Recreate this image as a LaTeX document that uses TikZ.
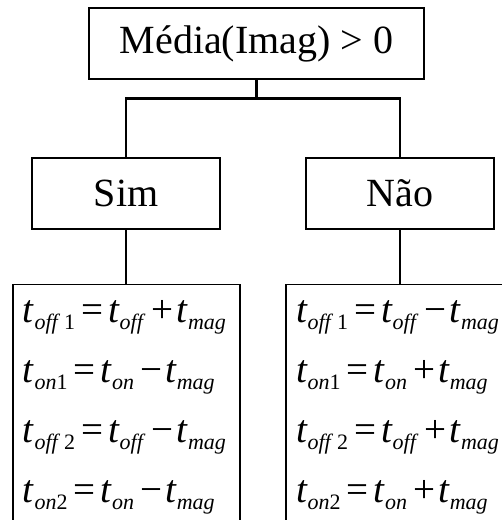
\documentclass[tikz,border=0pt]{standalone}
\usepackage{fontspec}
\setmainfont{Liberation Serif}
\usetikzlibrary{positioning}
\newcommand{\tsub}[1]{\textit{t}\raisebox{-7pt}{\fontsize{22}{22}\selectfont #1}}
\newcommand{\releq}{\hspace{6pt}=\hspace{5pt}}
\newcommand{\binop}[1]{\hspace{6pt}#1\hspace{3pt}}

\begin{document}
\begin{tikzpicture}[
      x=1pt,y=-1pt,
      box/.style={draw,line width=1.1pt,inner sep=0pt,
        minimum width=188pt,minimum height=71pt,font=\fontsize{40}{48}\selectfont},
      eqbox/.style={draw,line width=1.1pt,inner xsep=10pt,inner ysep=0pt,
        minimum height=246pt,text width=207pt,align=left,anchor=north,
        font=\fontsize{39}{60}\selectfont},
      link/.style={line width=2.5pt}
    ]
      \useasboundingbox (0,0) rectangle (502,520);
      \clip (0,0) rectangle (502,520);
      \node[box,minimum width=335pt] (media) at (256.5,43.5) {Média(Imag) > 0};
      \node[box] (sim) at (126,193.5) {Sim};
      \node[box] (nao) at (400,193.5) {Não};
      \node[eqbox] (eqsim) at (126.5,284) {%
        \mbox{\tsub{\textit{off}\/\,1}\releq\tsub{\textit{off}}\binop{+}\tsub{\textit{mag}}}\\
        \mbox{\tsub{\textit{on}1}\releq\tsub{\textit{on}}\binop{−}\tsub{\textit{mag}}}\\
        \mbox{\tsub{\textit{off}\/\,2}\releq\tsub{\textit{off}}\binop{−}\tsub{\textit{mag}}}\\
        \mbox{\tsub{\textit{on}2}\releq\tsub{\textit{on}}\binop{−}\tsub{\textit{mag}}}};
      \node[eqbox] (eqnao) at (399.5,284) {%
        \mbox{\tsub{\textit{off}\/\,1}\releq\tsub{\textit{off}}\binop{−}\tsub{\textit{mag}}}\\
        \mbox{\tsub{\textit{on}1}\releq\tsub{\textit{on}}\binop{+}\tsub{\textit{mag}}}\\
        \mbox{\tsub{\textit{off}\/\,2}\releq\tsub{\textit{off}}\binop{+}\tsub{\textit{mag}}}\\
        \mbox{\tsub{\textit{on}2}\releq\tsub{\textit{on}}\binop{+}\tsub{\textit{mag}}}};
      \draw[link] (media.south) -- ++(0,19) coordinate (split) -| (sim.north);
      \draw[link] (split) -| (nao.north);
      \draw[link] (sim.south) -- (sim.south |- eqsim.north);
      \draw[link] (nao.south) -- (nao.south |- eqnao.north);
    \end{tikzpicture}
\end{document}
